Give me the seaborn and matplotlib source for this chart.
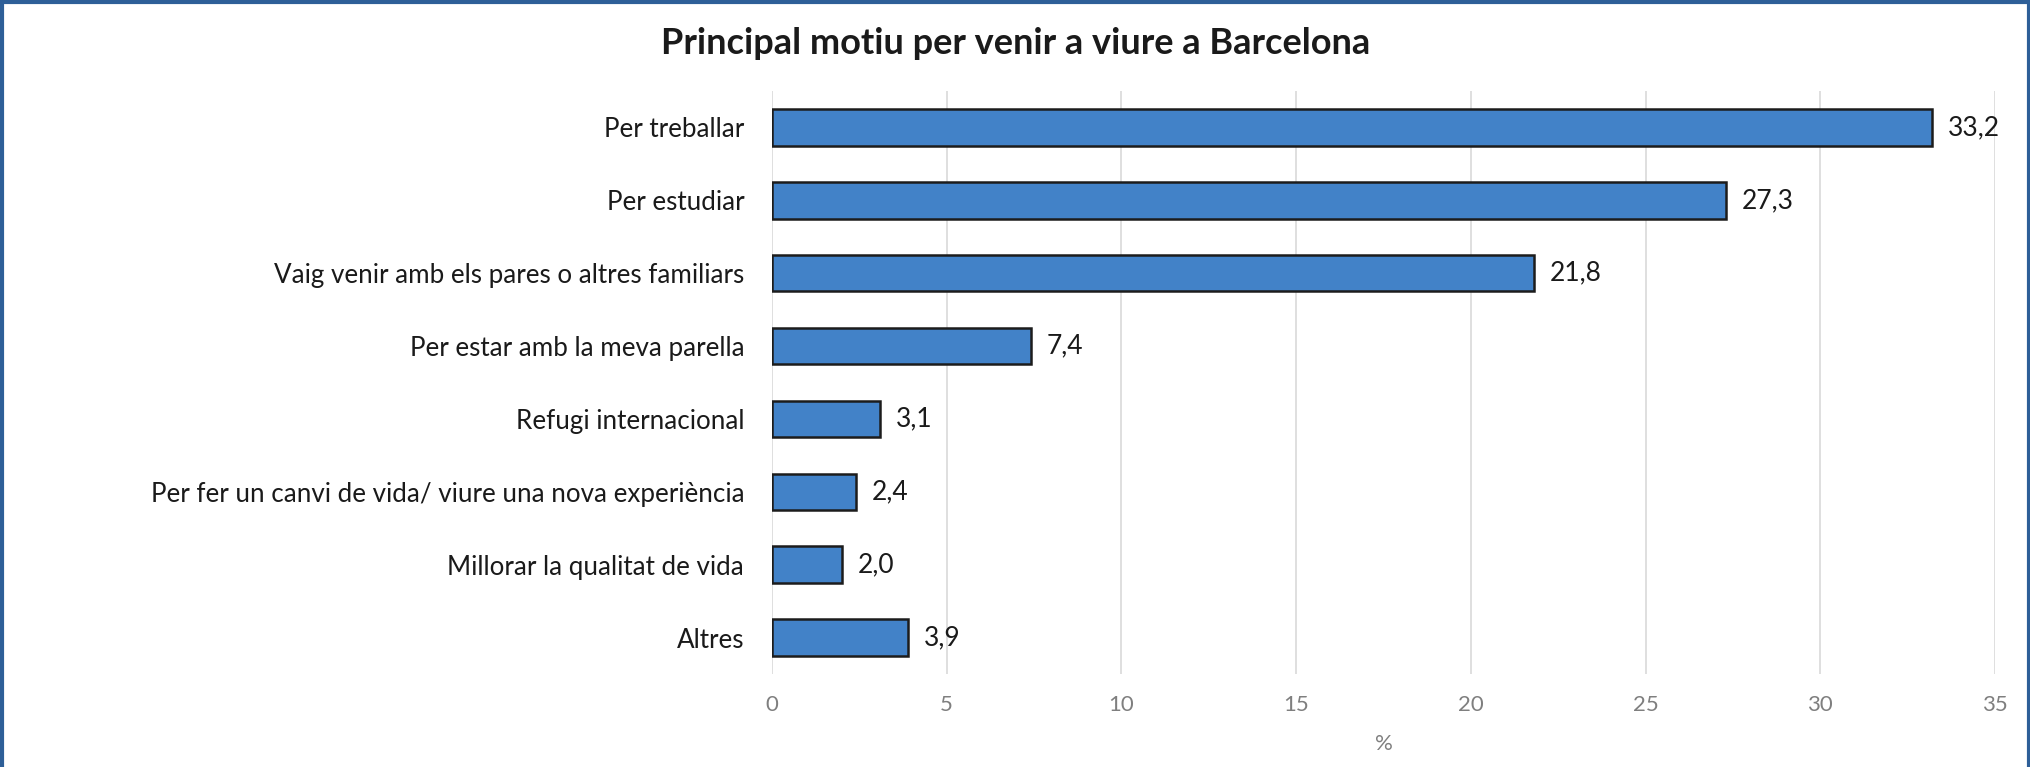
import matplotlib
matplotlib.use("Agg")
import matplotlib.pyplot as plt
import seaborn as sns
import pandas as pd
from matplotlib.lines import Line2D

categories = [
    "Per treballar",
    "Per estudiar",
    "Vaig venir amb els pares o altres familiars",
    "Per estar amb la meva parella",
    "Refugi internacional",
    "Per fer un canvi de vida/ viure una nova experiència",
    "Millorar la qualitat de vida",
    "Altres",
]
values = [33.2, 27.3, 21.8, 7.4, 3.1, 2.4, 2.0, 3.9]
xticks = [0, 5, 10, 15, 20, 25, 30, 35]
title = "Principal motiu per venir a viure a Barcelona"
xlabel = "%"

sns.set_theme(style="white")
plt.rcParams['font.family'] = ['Lato', 'DejaVu Sans']

df = pd.DataFrame({"cat": categories, "val": values})

fig = plt.figure(figsize=(20.31, 7.67), dpi=100)
ax = fig.add_axes([772/2031, 1 - 674/767, (1995-772)/2031, (674-91)/767])

sns.barplot(data=df, x="val", y="cat", orient="h", ax=ax, color="#4282c8",
            saturation=1, width=0.5, edgecolor="#1c1c1c", linewidth=1.8, zorder=3)

ax.set_xlim(0, 35)
ax.set_ylim(7.5, -0.5)
ax.set_xticks(xticks)
ax.set_xticklabels([str(t) for t in xticks], color="#7f7f7f", fontsize=16)
ax.tick_params(axis="x", length=0, pad=15)
ax.tick_params(axis="y", length=0, pad=20, labelsize=18.7, labelcolor="#1a1a1a")
ax.grid(axis="x", color="#d9d9d9", linewidth=1.2, zorder=0)
ax.set_axisbelow(True)
for s in ax.spines.values():
    s.set_visible(False)
ax.set_ylabel("")
ax.set_xlabel(xlabel, color="#7f7f7f", fontsize=16, labelpad=14)

for i, v in enumerate(values):
    ax.text(v + 0.45, i, f"{v:.1f}".replace(".", ","), va="center", ha="left",
            fontsize=19, color="#1a1a1a")

fig.text(0.5, 1 - 43/767, title, ha="center", va="center",
         fontsize=26, fontweight="bold", color="#1a1a1a")

# figure frame (left, top, right)
c = "#2e5f98"
fig.add_artist(Line2D([0.001, 0.001], [0, 1], transform=fig.transFigure, color=c, lw=3))
fig.add_artist(Line2D([0, 1], [0.998, 0.998], transform=fig.transFigure, color=c, lw=3))
fig.add_artist(Line2D([0.999, 0.999], [0, 1], transform=fig.transFigure, color=c, lw=3))

fig.savefig("out.png", dpi=100)
